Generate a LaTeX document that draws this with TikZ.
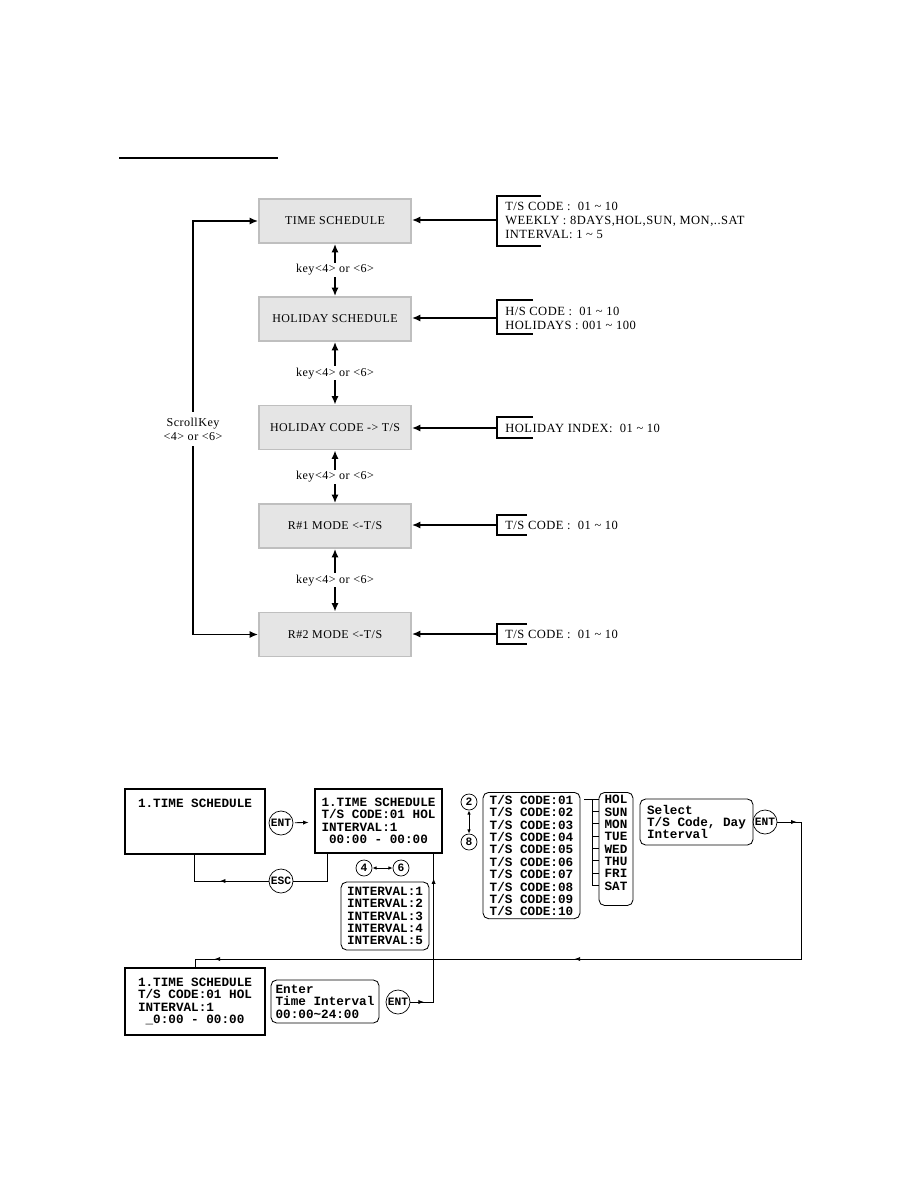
\documentclass[tikz,border=0pt]{standalone}
\usepackage{fontspec}
\usetikzlibrary{arrows.meta,calc,decorations.markings}
\newfontfamily\menufont[LetterSpace=4]{Liberation Serif}
\newfontfamily\lcdfont{Liberation Mono}

\tikzset{
  menubox/.style={draw=gray!50, line width=1.2pt, fill=gray!20,
    minimum width=3.8cm, minimum height=1.1cm,
    font=\menufont\fontsize{8.5}{10}\selectfont},
  keylbl/.style={fill=white, inner sep=1pt, font=\menufont\fontsize{8.6}{10}\selectfont},
  infotext/.style={anchor=west, align=left, inner xsep=0.2cm, inner ysep=0pt,
    font=\menufont\fontsize{8.9}{10}\selectfont},
  brk/.style={line width=1.4pt},
  flow/.style={line width=1.4pt, -{Latex[length=6pt,width=5pt]}},
  flowboth/.style={line width=1.4pt, {Latex[length=6pt,width=5pt]}-{Latex[length=6pt,width=5pt]}},
  lcd/.style={draw, line width=2pt, align=left, minimum width=3.5cm, minimum height=1.625cm,
    font=\lcdfont\bfseries\fontsize{9}{8.8}\selectfont},
  panel/.style={draw, line width=0.6pt, rounded corners=4pt, align=left, inner sep=2pt,
    font=\lcdfont\bfseries\fontsize{9}{8.8}\selectfont},
  keyc/.style={draw, circle, line width=0.5pt, inner sep=0pt, minimum size=0.6cm,
    font=\lcdfont\bfseries\fontsize{8}{8}\selectfont},
  numc/.style={keyc, minimum size=0.4cm},
  wire/.style={line width=0.6pt},
  midtip/.style={postaction={decorate,decoration={markings,
    mark=at position #1 with {\arrow{Latex[length=4pt,width=3pt]}}}}},
}

\begin{document}
\begin{tikzpicture}[x=0.025cm, y=-0.025cm]
\useasboundingbox (0,0) rectangle (918,1188);
\draw[line width=0.8pt] (119,158) -- (278,158);

% menu chain
\node[menubox] (ts) at (335,221) {TIME SCHEDULE};
\node[menubox] (hs) at (335,319) {HOLIDAY SCHEDULE};
\node[menubox] (hc) at (335,427.5) {HOLIDAY CODE -> T/S};
\node[menubox] (r1) at (335,526) {R\#1 MODE <-T/S};
\node[menubox] (r2) at (335,634.5) {R\#2 MODE <-T/S};
\draw[flowboth] (ts) -- (hs) node[midway, keylbl] {key<4> or <6>};
\draw[flowboth] (hs) -- (hc) node[midway, keylbl] {key<4> or <6>};
\draw[flowboth] (hc) -- (r1) node[midway, keylbl] {key<4> or <6>};
\draw[flowboth] (r1) -- (r2) node[midway, keylbl] {key<4> or <6>};

\node[keylbl, align=center, inner ysep=4pt] (scroll) at (193,429) {ScrollKey\\<4> or <6>};
\draw[flow] (scroll) |- (ts);
\draw[flow] (scroll) |- (r2);

% setting ranges
\node[infotext] (tsinfo) at (497,220) {T/S CODE :\ \ 01 \textasciitilde\ 10\\WEEKLY : 8DAYS,HOL,SUN, MON,..SAT\\INTERVAL: 1 \textasciitilde\ 5};
\node[infotext] (hsinfo) at (497,318) {H/S CODE :\ \ 01 \textasciitilde\ 10\\HOLIDAYS : 001 \textasciitilde\ 100};
\node[infotext] (hcinfo) at (497,428) {HOLIDAY INDEX:\ \ 01 \textasciitilde\ 10};
\node[infotext] (r1info) at (497,525) {T/S CODE :\ \ 01 \textasciitilde\ 10};
\node[infotext] (r2info) at (497,634) {T/S CODE :\ \ 01 \textasciitilde\ 10};
\draw[brk] (541,196) -| (497,246) -- (541,246);
\draw[brk] (533,300) -| (497,334) -- (533,334);
\draw[brk] (533,417) -| (497,438) -- (533,438);
\draw[brk] (527,515) -| (497,535) -- (527,535);
\draw[brk] (527,624) -| (497,644) -- (527,644);
\draw[flow] (tsinfo.west) -- (tsinfo.west -| ts.east);
\draw[flow] (hsinfo.west) -- (hsinfo.west -| hs.east);
\draw[flow] (hcinfo.west) -- (hcinfo.west -| hc.east);
\draw[flow] (r1info.west) -- (r1info.west -| r1.east);
\draw[flow] (r2info.west) -- (r2info.west -| r2.east);

% LCD screens
\node[lcd] (scrA) at (195,821.5) {1.TIME SCHEDULE\\\mbox{}\\\mbox{}\\\mbox{}};
\node[lcd, minimum width=3.175cm, minimum height=1.6cm] (scrB) at (378.5,821) {1.TIME SCHEDULE\\T/S CODE:01 HOL\\INTERVAL:1\\\phantom{0}00:00 - 00:00};
\node[lcd, minimum height=1.675cm] (scrC) at (195,1001.5) {1.TIME SCHEDULE\\T/S CODE:01 HOL\\INTERVAL:1\\\phantom{0}\_0:00 - 00:00};

\node[keyc] (ent1) at (281,823) {ENT};
\node[keyc] (esc) at (281,881) {ESC};
\node[numc] (k2) at (469,802) {2};
\node[numc] (k8) at (469,842) {8};
\node[numc] (k4) at (364,868) {4};
\node[numc] (k6) at (401,868) {6};

\node[panel, minimum width=2.2cm, minimum height=1.7cm] (ivl) at (385,916) {INTERVAL:1\\INTERVAL:2\\INTERVAL:3\\INTERVAL:4\\INTERVAL:5};
\node[panel, anchor=north, minimum width=2.425cm] (tsl) at (531.5,792) {T/S CODE:01\\T/S CODE:02\\T/S CODE:03\\T/S CODE:04\\T/S CODE:05\\T/S CODE:06\\T/S CODE:07\\T/S CODE:08\\T/S CODE:09\\T/S CODE:10};
\node[panel, anchor=north, minimum width=0.85cm] (dayl) at (616,792) {HOL\\SUN\\MON\\TUE\\WED\\THU\\FRI\\SAT\\\mbox{}};
\node[panel, minimum width=2.825cm, minimum height=1.15cm] (sel) at (696.5,822) {Select\\T/S Code, Day\\Interval};
\node[keyc] (ent2) at (765,822) {ENT};
\node[panel, minimum width=2.7cm, minimum height=1.075cm] (tin) at (325,1001.5) {Enter\\Time Interval\\00:00\textasciitilde24:00};
\node[keyc] (ent3) at (398,1002) {ENT};

\draw[wire, -{Latex[length=4pt,width=3pt]}, shorten <=1pt, shorten >=3.5pt] (ent1) -- (scrB);
\draw[wire] ([xshift=0.35cm]scrB.south west) |- (esc);
\draw[wire, midtip=0.49] (esc) -| ([xshift=1.775cm]scrA.south west);
\draw[wire, {Latex[length=3pt,width=2.5pt]}-{Latex[length=3pt,width=2.5pt]}] (k2) -- (k8);
\draw[wire, {Latex[length=3pt,width=2.5pt]}-{Latex[length=3pt,width=2.5pt]}] (k4) -- (k6);

% code list to day list
\draw[wire] ($(tsl.north east)+(4,7)$) -- ($(dayl.north west)+(0,7)$);
\draw[wire] ($(dayl.north west)+(-6,7)$) -- ++(0,86.6);
\foreach \i in {1,...,7}
  \draw[wire] ($(dayl.north west)+(-6,7+12.37*\i)$) -- ++(6,0);

\coordinate (back) at (801,959);
\draw[wire, midtip=0.025, midtip=0.5, midtip=0.965] (ent2) -| (back) -| (scrC);
\draw[wire, midtip=0.08, midtip=0.86] (ent3) -| ([xshift=3cm]scrB.south west);
\end{tikzpicture}
\end{document}
